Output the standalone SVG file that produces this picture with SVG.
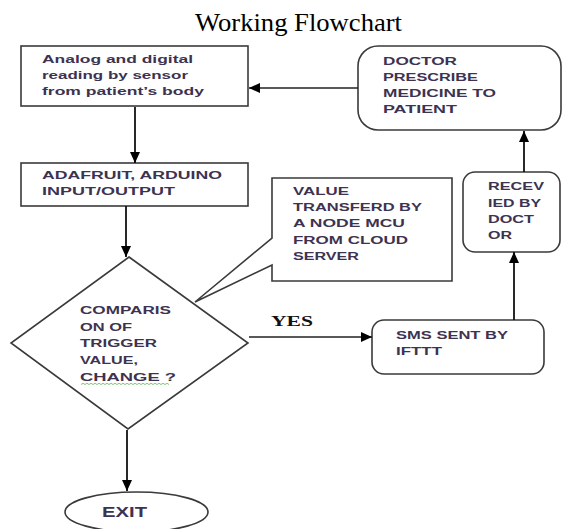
<svg xmlns="http://www.w3.org/2000/svg" width="563" height="529" viewBox="0 0 563 529">
<style>
.box{fill:#fff;stroke:#3a3a3a;stroke-width:1.6}
.t{font-family:"Liberation Sans",Arial,sans-serif;font-weight:bold;font-size:11.8px;fill:#3d3350}
.title{font-family:"Liberation Serif","Times New Roman",serif;font-size:25.5px;fill:#000}
.yes{font-family:"Liberation Serif","Times New Roman",serif;font-weight:bold;font-size:14px;fill:#111}
.c{fill:none;stroke:#111;stroke-width:1.8}
.ch{fill:none;stroke:#222;stroke-width:1.4}
</style>
<defs>
<marker id="ah" markerUnits="userSpaceOnUse" markerWidth="12" markerHeight="12" viewBox="0 0 12 12" refX="11" refY="6" orient="auto">
<path d="M0,1 L11,6 L0,11 Z" fill="#000"/>
</marker>
</defs>
<text class="title" x="298.5" y="31" text-anchor="middle" textLength="207" lengthAdjust="spacingAndGlyphs">Working Flowchart</text>

<g id="sensor">
<rect class="box" x="21" y="46" width="227" height="60"/>
<text class="t" x="42" y="63" textLength="151" lengthAdjust="spacingAndGlyphs">Analog and digital</text>
<text class="t" x="42" y="79" textLength="146" lengthAdjust="spacingAndGlyphs">reading by sensor</text>
<text class="t" x="42" y="95" textLength="162" lengthAdjust="spacingAndGlyphs">from patient’s body</text>
</g>

<g id="adafruit">
<rect class="box" x="21" y="163" width="227" height="43"/>
<text class="t" x="42" y="179" textLength="180" lengthAdjust="spacingAndGlyphs">ADAFRUIT, ARDUINO</text>
<text class="t" x="42" y="195" textLength="133" lengthAdjust="spacingAndGlyphs">INPUT/OUTPUT</text>
</g>

<g id="compare">
<polygon class="box" points="129,257 248,343 128,429 11,343"/>
<text class="t" x="80" y="314" textLength="91" lengthAdjust="spacingAndGlyphs">COMPARIS</text>
<text class="t" x="80" y="331" textLength="52" lengthAdjust="spacingAndGlyphs">ON OF</text>
<text class="t" x="80" y="347" textLength="77" lengthAdjust="spacingAndGlyphs">TRIGGER</text>
<text class="t" x="80" y="364" textLength="58" lengthAdjust="spacingAndGlyphs">VALUE,</text>
<text class="t" x="80" y="381" textLength="96" lengthAdjust="spacingAndGlyphs">CHANGE ?</text>
<path d="M81,384.5 l2,-1.2 l2,1.2 l2,-1.2 l2,1.2 l2,-1.2 l2,1.2 l2,-1.2 l2,1.2 l2,-1.2 l2,1.2 l2,-1.2 l2,1.2 l2,-1.2 l2,1.2 l2,-1.2 l2,1.2 l2,-1.2 l2,1.2 l2,-1.2 l2,1.2 l2,-1.2 l2,1.2 l2,-1.2 l2,1.2 l2,-1.2 l2,1.2 l2,-1.2 l2,1.2 l2,-1.2 l2,1.2 l2,-1.2 l2,1.2 l2,-1.2 l2,1.2 l2,-1.2 l2,1.2 l2,-1.2 l2,1.2 l2,-1.2 l2,1.2 l2,-1.2 l2,1.2 l2,-1.2 l2,1.2" fill="none" stroke="#6bbf6b" stroke-width="0.9"/>
</g>

<g id="callout">
<path class="box" d="M272,178 L452,178 L452,281 L272,281 L272,265 L195,302 L272,238 Z"/>
<text class="t" x="293" y="195" textLength="56" lengthAdjust="spacingAndGlyphs">VALUE</text>
<text class="t" x="293" y="211" textLength="129" lengthAdjust="spacingAndGlyphs">TRANSFERD BY</text>
<text class="t" x="293" y="227" textLength="112" lengthAdjust="spacingAndGlyphs">A NODE MCU</text>
<text class="t" x="293" y="244" textLength="115" lengthAdjust="spacingAndGlyphs">FROM CLOUD</text>
<text class="t" x="293" y="260" textLength="66" lengthAdjust="spacingAndGlyphs">SERVER</text>
</g>

<g id="sms">
<rect class="box" x="372" y="320" width="172" height="54" rx="12"/>
<text class="t" x="396" y="339" textLength="112" lengthAdjust="spacingAndGlyphs">SMS SENT BY</text>
<text class="t" x="396" y="355" textLength="46" lengthAdjust="spacingAndGlyphs">IFTTT</text>
</g>

<g id="received">
<rect class="box" x="463" y="172" width="97" height="80" rx="12"/>
<text class="t" x="488" y="190" textLength="56" lengthAdjust="spacingAndGlyphs">RECEV</text>
<text class="t" x="488" y="207" textLength="53" lengthAdjust="spacingAndGlyphs">IED BY</text>
<text class="t" x="488" y="223" textLength="46" lengthAdjust="spacingAndGlyphs">DOCT</text>
<text class="t" x="488" y="239" textLength="24" lengthAdjust="spacingAndGlyphs">OR</text>
</g>

<g id="doctor">
<rect class="box" x="358" y="46" width="203" height="84" rx="20"/>
<text class="t" x="383" y="65" textLength="74" lengthAdjust="spacingAndGlyphs">DOCTOR</text>
<text class="t" x="383" y="81" textLength="95" lengthAdjust="spacingAndGlyphs">PRESCRIBE</text>
<text class="t" x="383" y="97" textLength="113" lengthAdjust="spacingAndGlyphs">MEDICINE TO</text>
<text class="t" x="383" y="113" textLength="74" lengthAdjust="spacingAndGlyphs">PATIENT</text>
</g>

<g id="exit">
<ellipse class="box" cx="136.5" cy="512" rx="71.5" ry="20"/>
<text class="t" x="124.5" y="517" text-anchor="middle" style="font-size:15.5px" textLength="45" lengthAdjust="spacingAndGlyphs">EXIT</text>
</g>

<g id="connectors">
<path class="c" d="M135,107 L135,163" marker-end="url(#ah)"/>
<path class="c" d="M126,206 L126,257" marker-end="url(#ah)"/>
<path class="c" d="M127,430 L127,491" marker-end="url(#ah)"/>
<path class="ch" d="M249,337 L372,337" marker-end="url(#ah)"/>
<path class="c" d="M514,320 L514,252" marker-end="url(#ah)"/>
<path class="c" d="M524,172 L524,131" marker-end="url(#ah)"/>
<path class="ch" d="M358,88 L249,88" marker-end="url(#ah)"/>
<text class="yes" x="271" y="326" textLength="42" lengthAdjust="spacingAndGlyphs">YES</text>
</g>
</svg>
